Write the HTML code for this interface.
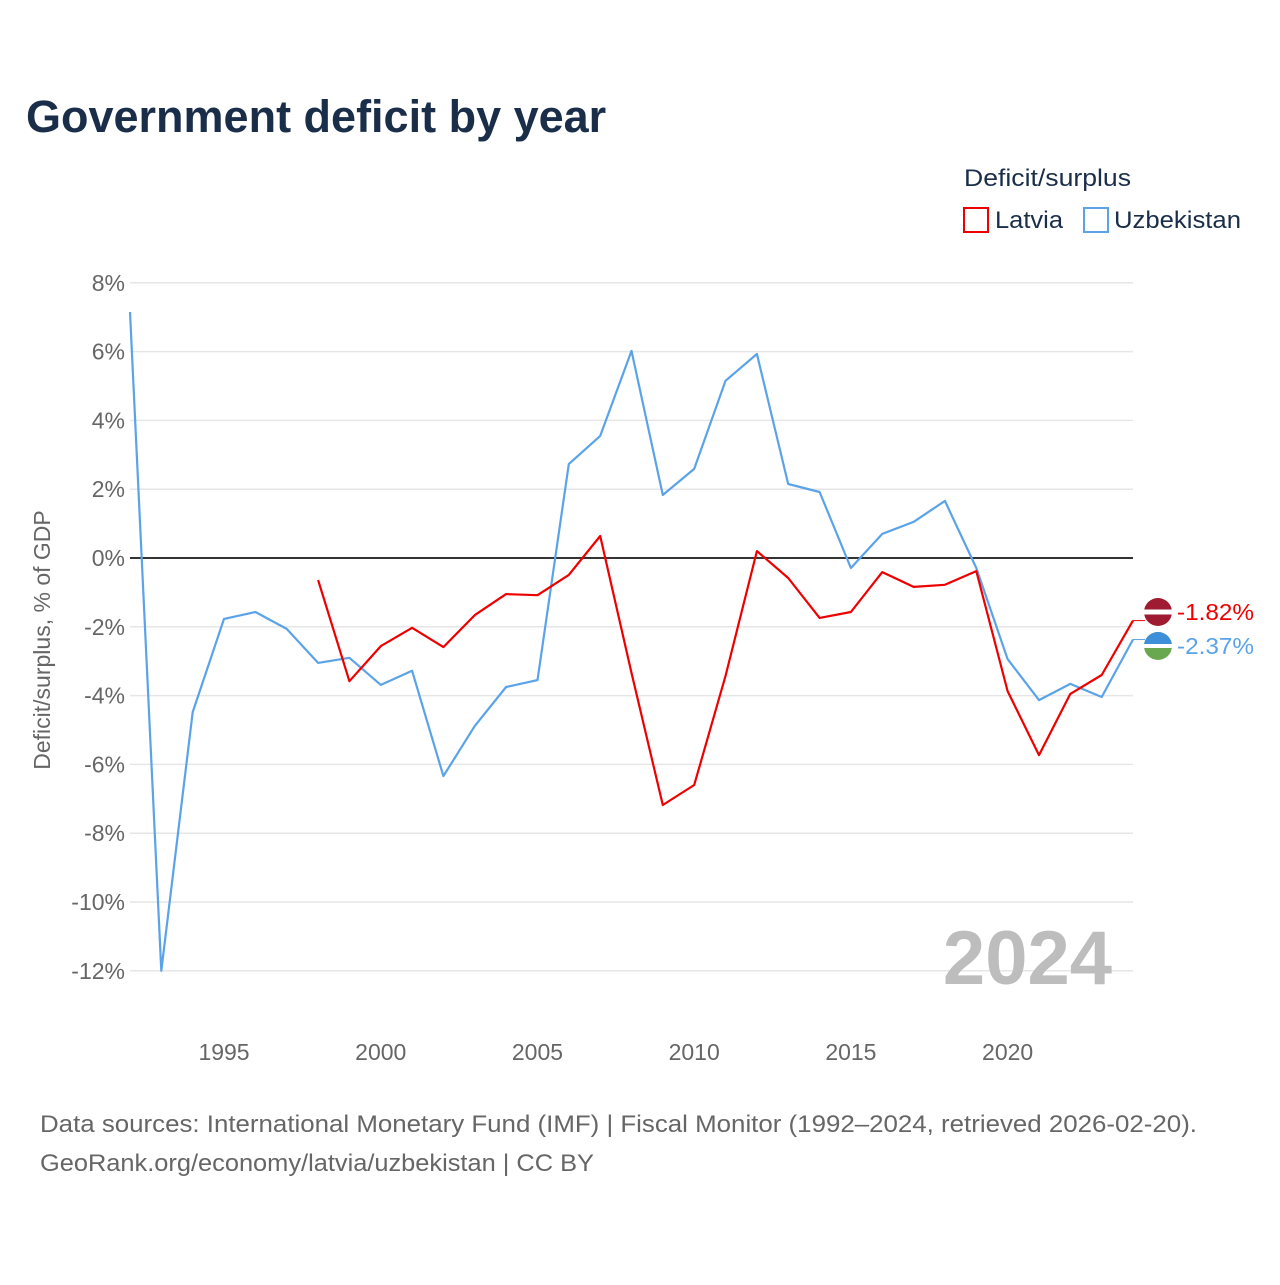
<!DOCTYPE html>
<html><head><meta charset="utf-8">
<style>
body{margin:0;background:#fff;font-family:"Liberation Sans",sans-serif;}
#wrap{position:relative;width:1280px;height:1280px;}
</style></head>
<body>
<div id="wrap">
<svg id="chart" width="1280" height="1280" font-family="Liberation Sans, sans-serif">
<text x="26" y="132" font-size="45" font-weight="bold" fill="#1a2e4a">Government deficit by year</text>
<text x="964" y="186" font-size="24" fill="#1a2e4a" textLength="167" lengthAdjust="spacingAndGlyphs">Deficit/surplus</text>
<g><rect x="964" y="208" width="24" height="24" fill="none" stroke="#ee0000" stroke-width="2"/><text x="995" y="228" font-size="24" fill="#1a2e4a" textLength="68" lengthAdjust="spacingAndGlyphs">Latvia</text></g>
<g><rect x="1084" y="208" width="24" height="24" fill="none" stroke="#5ba3e8" stroke-width="2"/><text x="1114" y="228" font-size="24" fill="#1a2e4a" textLength="127" lengthAdjust="spacingAndGlyphs">Uzbekistan</text></g>
<text transform="translate(50,640) rotate(-90)" text-anchor="middle" font-size="23" fill="#666">Deficit/surplus, % of GDP</text>
<g id="grid"></g><g id="series"></g>
<text x="1112" y="984" text-anchor="end" font-size="76" font-weight="bold" fill="#bdbdbd">2024</text>
<text x="40" y="1132" font-size="24" fill="#666" textLength="1157" lengthAdjust="spacingAndGlyphs">Data sources: International Monetary Fund (IMF) | Fiscal Monitor (1992–2024, retrieved 2026-02-20).</text>
<text x="40" y="1171" font-size="24" fill="#666" textLength="554" lengthAdjust="spacingAndGlyphs">GeoRank.org/economy/latvia/uzbekistan | CC BY</text>
</svg>
</div>
<script>
const years=[1992,1993,1994,1995,1996,1997,1998,1999,2000,2001,2002,2003,2004,2005,2006,2007,2008,2009,2010,2011,2012,2013,2014,2015,2016,2017,2018,2019,2020,2021,2022,2023,2024];
const uzbekistan=[7.15,-12.0,-4.48,-1.77,-1.57,-2.06,-3.05,-2.9,-3.69,-3.28,-6.34,-4.88,-3.75,-3.55,2.73,3.55,6.02,1.83,2.59,5.15,5.93,2.15,1.92,-0.29,0.70,1.05,1.66,-0.29,-2.94,-4.13,-3.66,-4.04,-2.37];
const latvia=[null,null,null,null,null,null,-0.64,-3.58,-2.56,-2.03,-2.59,-1.66,-1.05,-1.08,-0.49,0.64,-3.34,-7.18,-6.6,-3.43,0.2,-0.58,-1.74,-1.57,-0.41,-0.84,-0.78,-0.38,-3.87,-5.73,-3.95,-3.40,-1.82];
const yTicks=[8,6,4,2,0,-2,-4,-6,-8,-10,-12];
const xTicks=[1995,2000,2005,2010,2015,2020];
const NS="http://www.w3.org/2000/svg";
const X=y=>130+(y-1992)*(1133-130)/32;
const Y=v=>558-v*34.4;
function mk(t,a,p){const e=document.createElementNS(NS,t);for(const k in a)e.setAttribute(k,a[k]);p.appendChild(e);return e;}
const grid=document.getElementById('grid'),ser=document.getElementById('series');
yTicks.forEach(v=>{
 const l=mk('line',{x1:130,x2:1133,y1:Y(v),y2:Y(v),stroke:v===0?'#333':'#e6e6e6','stroke-width':v===0?2:1.5},grid);
 
 
 const t=mk('text',{x:125,y:Y(v)+8,'text-anchor':'end','font-size':23,fill:'#666'},grid);t.textContent=v+'%';
 
 
});
xTicks.forEach(y=>{
 const t=mk('text',{x:X(y),y:1060,'text-anchor':'middle','font-size':23,fill:'#666'},grid);t.textContent=y;
 
 
});
function line(vals,col,name){
 let d='';vals.forEach((v,i)=>{if(v===null)return;d+=(d?'L':'M')+X(years[i]).toFixed(1)+','+Y(v).toFixed(1);});
 const p=mk('path',{d:d,fill:'none',stroke:col,'stroke-width':2.2,'stroke-linejoin':'round'},ser);
 
 
}
line(uzbekistan,'#5ba3e8','uzbekistan');
line(latvia,'#ee0000','latvia');
function endLabel(v,col,ly,name,flag){
 const g=mk('g',{},ser);
 
 
 mk('line',{x1:X(2024),y1:Y(v),x2:1145,y2:Y(v),stroke:col,'stroke-width':1},g);
 if(flag==='lv'){mk('circle',{cx:1158,cy:ly,r:14,fill:'#9e1b32'},g);mk('rect',{x:1144,y:ly-2.5,width:28,height:5,fill:'#fff'},g);}
 else{mk('circle',{cx:1158,cy:ly,r:14,fill:'#6aa84f'},g);mk('path',{d:`M1144,${ly} A14,14 0 0 1 1172,${ly} Z`,fill:'#3c8fd8'},g);mk('rect',{x:1144,y:ly-2,width:28,height:4,fill:'#fff'},g);}
 const t=mk('text',{x:1177,y:ly+8,'font-size':23,fill:col,textLength:77,lengthAdjust:'spacingAndGlyphs'},g);t.textContent=v.toFixed(2)+'%';
}
endLabel(latvia[latvia.length-1],'#ee0000',612,'latvia','lv');
endLabel(uzbekistan[uzbekistan.length-1],'#5ba3e8',646,'uzbekistan','uz');
</script>
</body></html>
